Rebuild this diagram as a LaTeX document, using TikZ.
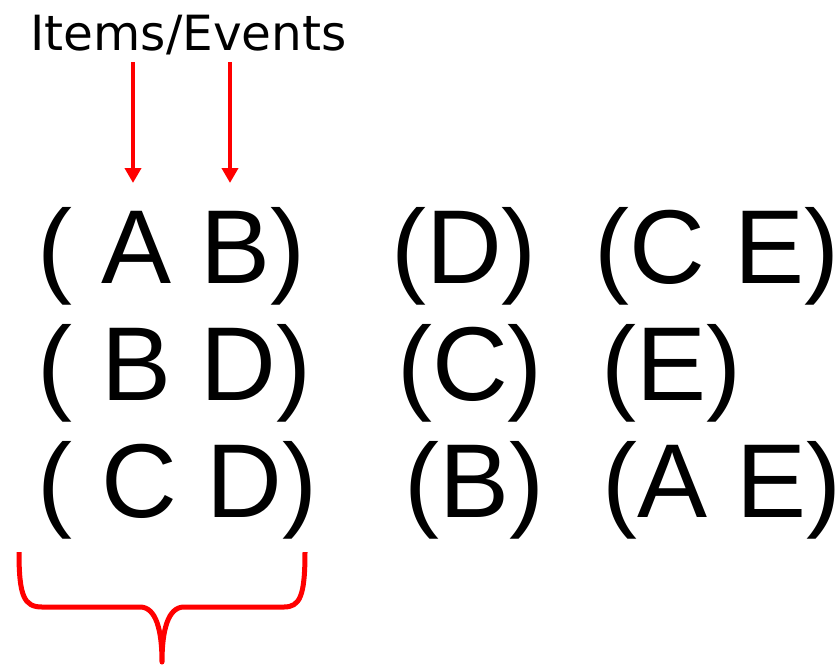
\documentclass[tikz,border=0pt]{standalone}
\usepackage{fontspec}
\setmainfont{Liberation Sans}
\newfontfamily\titlefont{DejaVu Sans}
\usetikzlibrary{arrows.meta}
\definecolor{bracered}{RGB}{255,0,0}
\begin{document}
\begin{tikzpicture}[x = 1pt, y = -1pt,
  itemset/.style = {anchor = base west, inner sep = 0, font = \fontsize{105}{120}\selectfont},
  redarrow/.style = {draw = bracered, line width = 4.5pt, -{Triangle[width = 16pt, length = 15pt]}}]
\useasboundingbox (0,0) rectangle (838,665);
\node[anchor = base, inner sep = 0, font = \titlefont\fontsize{48.5}{56}\selectfont] (title) at (188.5,50) {Items/Events};
% first sequence
\node[itemset] (set11) at (37,283) {( A B)};
\node[itemset] (set12) at (391,283) {(D)};
\node[itemset] (set13) at (594,283) {(C E)};
% second sequence
\node[itemset] (set21) at (37,400) {( B D)};
\node[itemset] (set22) at (397,400) {(C)};
\node[itemset] (set23) at (601,400) {(E)};
% third sequence
\node[itemset] (set31) at (37,517) {( C D)};
\node[itemset] (set32) at (404,517) {(B)};
\node[itemset] (set33) at (602,517) {(A E)};
% arrows to the items
\coordinate (fromA) at (133,62);
\coordinate (toA) at (133,183);
\coordinate (fromB) at (230,62);
\coordinate (toB) at (230,183);
\draw[redarrow] (fromA) -- (toA);
\draw[redarrow] (fromB) -- (toB);
% brace under the element
\draw[bracered, line width = 5pt, line join = round]
  (19,552) .. controls (19,596) and (24,607) .. (42,607) -- (140,607)
  .. controls (156,607) and (162,630) .. (162,662)
  .. controls (162,630) and (168,607) .. (184,607) -- (284,607)
  .. controls (300,607) and (305,596) .. (305,552);
\end{tikzpicture}
\end{document}
